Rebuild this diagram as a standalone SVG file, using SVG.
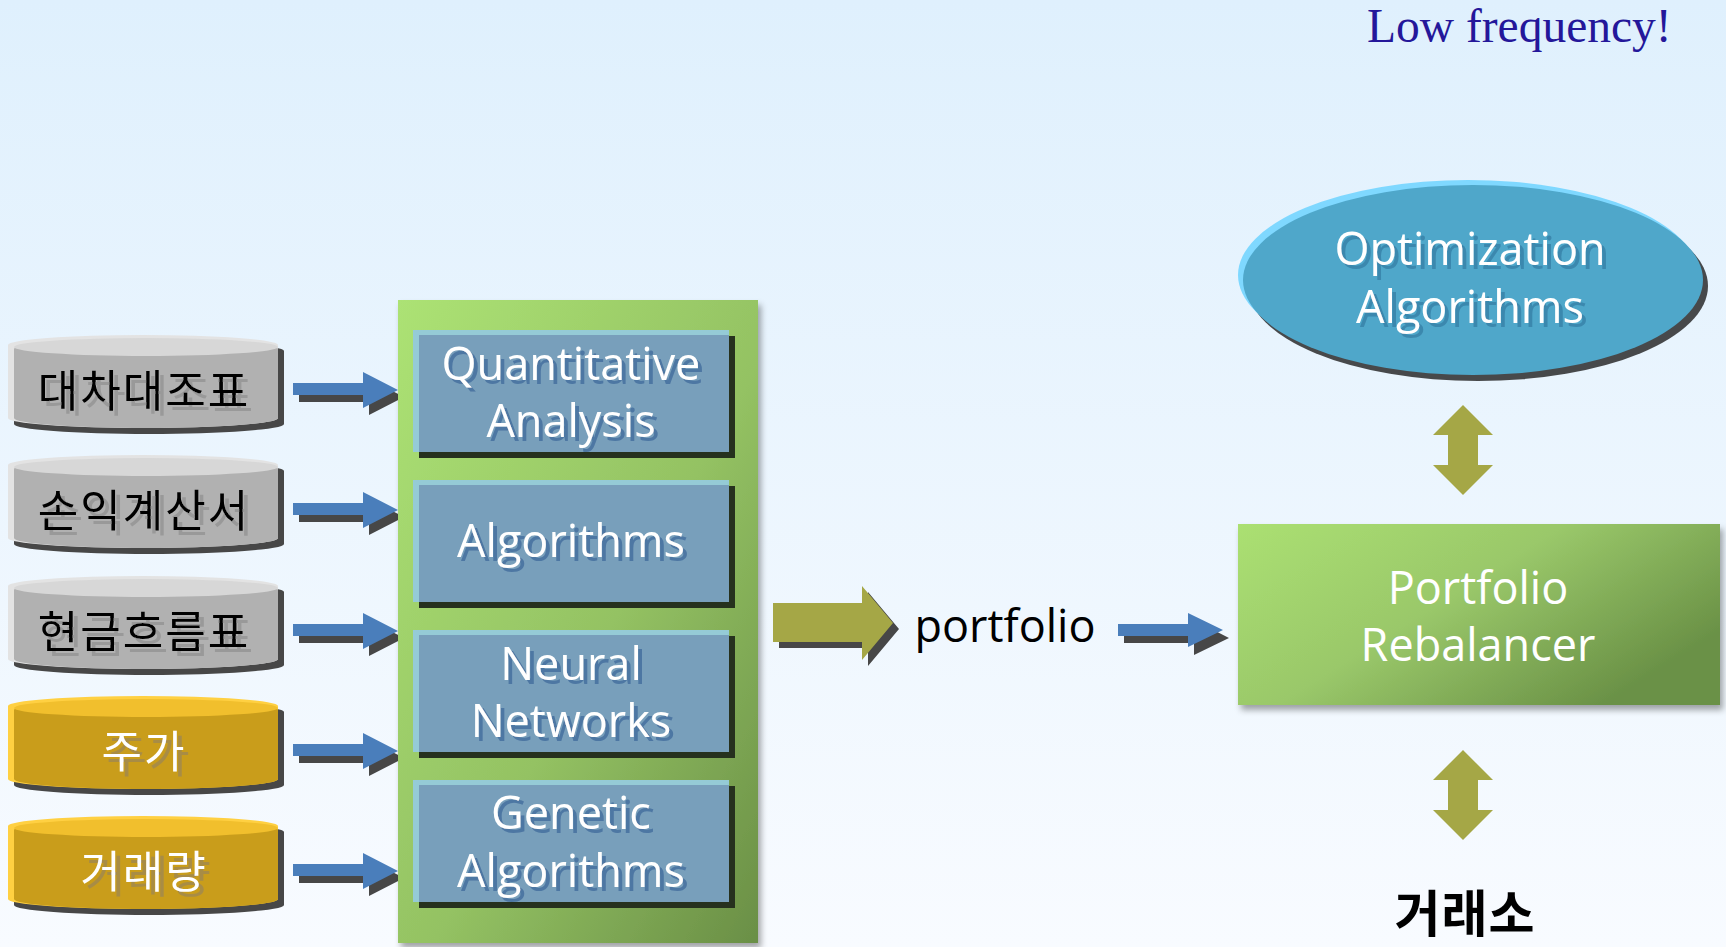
<svg xmlns="http://www.w3.org/2000/svg" width="1726" height="947" viewBox="0 0 1726 947">
<defs>
<linearGradient id="bg" x1="0" y1="0" x2="0" y2="1"><stop offset="0" stop-color="#dff0fd"/><stop offset="1" stop-color="#f8fbff"/></linearGradient>
<linearGradient id="gPanel" x1="0" y1="0" x2="1" y2="1"><stop offset="0" stop-color="#ace274"/><stop offset="0.55" stop-color="#94c263"/><stop offset="1" stop-color="#6a8f46"/></linearGradient>
<linearGradient id="gReb" x1="0" y1="0" x2="1" y2="0.6"><stop offset="0" stop-color="#abe072"/><stop offset="0.5" stop-color="#9ac86a"/><stop offset="1" stop-color="#6a9146"/></linearGradient>
<filter id="sh" x="-10%" y="-10%" width="125%" height="125%"><feDropShadow dx="3" dy="5" stdDeviation="3" flood-color="#000" flood-opacity="0.35"/></filter>
<filter id="tsB" x="-5%" y="-10%" width="115%" height="130%"><feDropShadow dx="4" dy="4" stdDeviation="0.6" flood-color="#4d77a3" flood-opacity="1"/></filter>
<filter id="tsE" x="-5%" y="-10%" width="115%" height="130%"><feDropShadow dx="4" dy="4" stdDeviation="0.6" flood-color="#3a88ae" flood-opacity="1"/></filter>
<filter id="tsG" x="-5%" y="-10%" width="115%" height="130%"><feDropShadow dx="5" dy="5" stdDeviation="0.6" flood-color="#999999" flood-opacity="1"/></filter>
<filter id="tsY" x="-5%" y="-10%" width="115%" height="130%"><feDropShadow dx="5" dy="5" stdDeviation="0.6" flood-color="#a88c45" flood-opacity="1"/></filter>
</defs>
<style>
.lat{font-family:"Open Sans","Noto Sans",sans-serif;font-size:45px;text-anchor:middle}
.kr{font-family:"Noto Sans CJK KR",sans-serif;font-size:44px;letter-spacing:2px;text-anchor:middle}
.w{fill:#ffffff}
.dk{fill:#474747}
.blue{fill:#4a7ebb}
.olive{fill:#a5a746}
.boxsh{fill:#26311e}
.boxlt{fill:#95cbd6}
.boxfill{fill:#789fbb}
</style>
<rect width="1726" height="947" fill="url(#bg)"/>

<g id="low-frequency"><text x="1367" y="42" font-family="Liberation Serif,serif" font-size="47.5" fill="#24179a">Low frequency!</text></g>

<g id="cyl-1">
<path class="dk" d="M14,351 A135,10 0 0 1 284,351 L284,424 A135,10 0 0 1 14,424 Z"/>
<path fill="#e3e3e3" d="M8,345 A135,10 0 0 1 278,345 L278,418 A135,10 0 0 1 8,418 Z"/>
<path fill="#b1b1b1" d="M14,349 A132,10 0 0 1 278,349 L278,418 A132,10 0 0 1 14,418 Z"/>
<ellipse cx="146" cy="347" rx="132" ry="9" fill="#d7d7d7"/>
<text class="kr" x="144" y="407" fill="#000" filter="url(#tsG)">대차대조표</text>
</g>
<g id="cyl-2">
<path class="dk" d="M14,471 A135,10 0 0 1 284,471 L284,544 A135,10 0 0 1 14,544 Z"/>
<path fill="#e3e3e3" d="M8,465 A135,10 0 0 1 278,465 L278,538 A135,10 0 0 1 8,538 Z"/>
<path fill="#b1b1b1" d="M14,469 A132,10 0 0 1 278,469 L278,538 A132,10 0 0 1 14,538 Z"/>
<ellipse cx="146" cy="467" rx="132" ry="9" fill="#d7d7d7"/>
<text class="kr" x="144" y="527" fill="#000" filter="url(#tsG)">손익계산서</text>
</g>
<g id="cyl-3">
<path class="dk" d="M14,592 A135,10 0 0 1 284,592 L284,665 A135,10 0 0 1 14,665 Z"/>
<path fill="#e3e3e3" d="M8,586 A135,10 0 0 1 278,586 L278,659 A135,10 0 0 1 8,659 Z"/>
<path fill="#b1b1b1" d="M14,590 A132,10 0 0 1 278,590 L278,659 A132,10 0 0 1 14,659 Z"/>
<ellipse cx="146" cy="588" rx="132" ry="9" fill="#d7d7d7"/>
<text class="kr" x="144" y="648" fill="#000" filter="url(#tsG)">현금흐름표</text>
</g>
<g id="cyl-4">
<path class="dk" d="M14,712 A135,10 0 0 1 284,712 L284,785 A135,10 0 0 1 14,785 Z"/>
<path fill="#ffd042" d="M8,706 A135,10 0 0 1 278,706 L278,779 A135,10 0 0 1 8,779 Z"/>
<path fill="#c99d1b" d="M14,710 A132,10 0 0 1 278,710 L278,779 A132,10 0 0 1 14,779 Z"/>
<ellipse cx="146" cy="708" rx="132" ry="9" fill="#f1bf2d"/>
<text class="kr w" x="144" y="768" filter="url(#tsY)">주가</text>
</g>
<g id="cyl-5">
<path class="dk" d="M14,832 A135,10 0 0 1 284,832 L284,905 A135,10 0 0 1 14,905 Z"/>
<path fill="#ffd042" d="M8,826 A135,10 0 0 1 278,826 L278,899 A135,10 0 0 1 8,899 Z"/>
<path fill="#c99d1b" d="M14,830 A132,10 0 0 1 278,830 L278,899 A132,10 0 0 1 14,899 Z"/>
<ellipse cx="146" cy="828" rx="132" ry="9" fill="#f1bf2d"/>
<text class="kr w" x="144" y="888" filter="url(#tsY)">거래량</text>
</g>

<g id="connectors">
<path class="dk" d="M299,390 H369 V379 L404,397 L369,415 V402 H299 Z"/>
<path class="blue" d="M293,383 H363 V372 L398,390 L363,408 V395 H293 Z"/>
<path class="dk" d="M299,510 H369 V499 L404,517 L369,535 V522 H299 Z"/>
<path class="blue" d="M293,503 H363 V492 L398,510 L363,528 V515 H293 Z"/>
<path class="dk" d="M299,631 H369 V620 L404,638 L369,656 V643 H299 Z"/>
<path class="blue" d="M293,624 H363 V613 L398,631 L363,649 V636 H293 Z"/>
<path class="dk" d="M299,751 H369 V740 L404,758 L369,776 V763 H299 Z"/>
<path class="blue" d="M293,744 H363 V733 L398,751 L363,769 V756 H293 Z"/>
<path class="dk" d="M299,871 H369 V860 L404,878 L369,896 V883 H299 Z"/>
<path class="blue" d="M293,864 H363 V853 L398,871 L363,889 V876 H293 Z"/>
<path class="dk" d="M779,609 H868 V592 L899,629 L868,666 V648 H779 Z"/>
<path class="olive" d="M773,603 H862 V586 L893,623 L862,660 V642 H773 Z"/>
<path class="dk" d="M1124,631 H1194 V620 L1229,638 L1194,655 V643 H1124 Z"/>
<path class="blue" d="M1118,624 H1188 V613 L1223,630 L1188,647 V636 H1118 Z"/>
<path class="olive" d="M1463,405 L1493,435 H1478 V465 H1493 L1463,495 L1433,465 H1448 V435 H1433 Z"/>
<path class="olive" d="M1463,750 L1493,780 H1478 V810 H1493 L1463,840 L1433,810 H1448 V780 H1433 Z"/>
</g>

<g id="panel"><rect x="398" y="300" width="360" height="643" fill="url(#gPanel)" filter="url(#sh)"/></g>

<g id="box-quant">
<rect class="boxsh" x="419" y="336" width="316" height="122"/>
<rect class="boxlt" x="413" y="330" width="316" height="122"/>
<rect class="boxfill" x="419" y="335" width="310" height="117"/>
<text class="lat w" x="571" y="380" filter="url(#tsB)">Quantitative</text>
<text class="lat w" x="571" y="437" filter="url(#tsB)">Analysis</text>
</g>
<g id="box-algo">
<rect class="boxsh" x="419" y="486" width="316" height="122"/>
<rect class="boxlt" x="413" y="480" width="316" height="122"/>
<rect class="boxfill" x="419" y="485" width="310" height="117"/>
<text class="lat w" x="571" y="557" filter="url(#tsB)">Algorithms</text>
</g>
<g id="box-nn">
<rect class="boxsh" x="419" y="636" width="316" height="122"/>
<rect class="boxlt" x="413" y="630" width="316" height="122"/>
<rect class="boxfill" x="419" y="635" width="310" height="117"/>
<text class="lat w" x="571" y="680" filter="url(#tsB)">Neural</text>
<text class="lat w" x="571" y="737" filter="url(#tsB)">Networks</text>
</g>
<g id="box-ga">
<rect class="boxsh" x="419" y="786" width="316" height="122"/>
<rect class="boxlt" x="413" y="780" width="316" height="122"/>
<rect class="boxfill" x="419" y="785" width="310" height="117"/>
<text class="lat w" x="571" y="829" filter="url(#tsB)">Genetic</text>
<text class="lat w" x="571" y="887" filter="url(#tsB)">Algorithms</text>
</g>

<g id="portfolio-label"><text class="lat" x="1005" y="642" fill="#000">portfolio</text></g>

<g id="optimization">
<ellipse cx="1478" cy="286" rx="230" ry="95" fill="#47494b"/>
<ellipse cx="1468" cy="275" rx="230" ry="95" fill="#7fd8ff"/>
<ellipse cx="1473" cy="280" rx="230" ry="95" fill="#4fa7ca"/>
<text class="lat w" x="1470" y="265" filter="url(#tsE)">Optimization</text>
<text class="lat w" x="1470" y="323" filter="url(#tsE)">Algorithms</text>
</g>

<g id="rebalancer">
<rect x="1238" y="524" width="482" height="181" fill="url(#gReb)" filter="url(#sh)"/>
<text class="lat w" x="1478" y="604">Portfolio</text>
<text class="lat w" x="1478" y="661">Rebalancer</text>
</g>

<g id="exchange"><text x="1465" y="932" font-family="Noto Sans CJK KR,sans-serif" font-size="50" font-weight="bold" letter-spacing="1" text-anchor="middle" fill="#000">거래소</text></g>
</svg>
